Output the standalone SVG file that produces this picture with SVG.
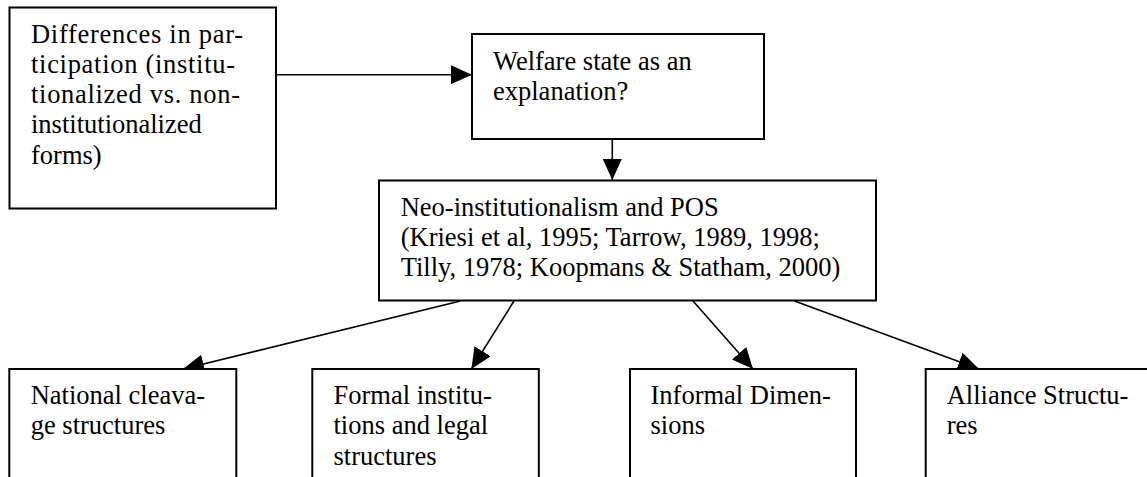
<svg xmlns="http://www.w3.org/2000/svg" width="1147" height="477" viewBox="0 0 1147 477">
  <style>
    .box { fill: #ffffff; stroke: #000000; stroke-width: 2; }
    .lbl { font-family: "Liberation Serif", "Times New Roman", serif; font-size: 26.5px; fill: #000000; }
    .conn { fill: none; stroke: #000000; stroke-width: 1.6; }
  </style>
  <defs>
    <marker id="arrow" markerUnits="userSpaceOnUse" markerWidth="21" markerHeight="19" refX="21" refY="9.5" orient="auto">
      <path d="M0,0 L21,9.5 L0,19 z" fill="#000000"/>
    </marker>
  </defs>
  <rect width="1147" height="477" fill="#ffffff"/>

  <g id="connectors">
    <line class="conn" x1="276" y1="74.7" x2="472" y2="74.7" marker-end="url(#arrow)"/>
    <line class="conn" x1="612.3" y1="139" x2="612.3" y2="180" marker-end="url(#arrow)"/>
    <line class="conn" x1="460.4" y1="301" x2="183" y2="369" marker-end="url(#arrow)"/>
    <line class="conn" x1="514" y1="301" x2="471.4" y2="369" marker-end="url(#arrow)"/>
    <line class="conn" x1="693" y1="301" x2="753" y2="369" marker-end="url(#arrow)"/>
    <line class="conn" x1="794.5" y1="301" x2="979" y2="369" marker-end="url(#arrow)"/>
  </g>

  <g id="node-differences">
    <rect class="box" x="9.5" y="7.5" width="266.5" height="201"/>
    <text class="lbl" x="31" y="42.5" textLength="212" lengthAdjust="spacing">Differences in par-</text>
    <text class="lbl" x="31" y="72.8" textLength="204" lengthAdjust="spacing">ticipation (institu-</text>
    <text class="lbl" x="31" y="103.1" textLength="209" lengthAdjust="spacing">tionalized vs. non-</text>
    <text class="lbl" x="31" y="133.4">institutionalized</text>
    <text class="lbl" x="31" y="163.7">forms)</text>
  </g>

  <g id="node-welfare">
    <rect class="box" x="472" y="34" width="292" height="105"/>
    <text class="lbl" x="493" y="70">Welfare state as an</text>
    <text class="lbl" x="493" y="100.3">explanation?</text>
  </g>

  <g id="node-neo">
    <rect class="box" x="379" y="180.5" width="497" height="120"/>
    <text class="lbl" x="400.7" y="215.5">Neo-institutionalism and POS</text>
    <text class="lbl" x="400.7" y="245.8">(Kriesi et al, 1995; Tarrow, 1989, 1998;</text>
    <text class="lbl" x="400.7" y="276.1">Tilly, 1978; Koopmans &amp; Statham, 2000)</text>
  </g>

  <g id="node-cleavage">
    <rect class="box" x="9.3" y="369" width="227" height="130"/>
    <text class="lbl" x="30.7" y="404">National cleava-</text>
    <text class="lbl" x="30.7" y="434.3">ge structures</text>
  </g>

  <g id="node-formal">
    <rect class="box" x="312.3" y="369" width="226.5" height="130"/>
    <text class="lbl" x="333.5" y="404">Formal institu-</text>
    <text class="lbl" x="333.5" y="434.3">tions and legal</text>
    <text class="lbl" x="333.5" y="464.6">structures</text>
  </g>

  <g id="node-informal">
    <rect class="box" x="630" y="369" width="226" height="130"/>
    <text class="lbl" x="650.5" y="404">Informal Dimen-</text>
    <text class="lbl" x="650.5" y="434.3">sions</text>
  </g>

  <g id="node-alliance">
    <rect class="box" x="925.7" y="369" width="228" height="130"/>
    <text class="lbl" x="946.7" y="404">Alliance Structu-</text>
    <text class="lbl" x="946.7" y="434.3">res</text>
  </g>
</svg>
